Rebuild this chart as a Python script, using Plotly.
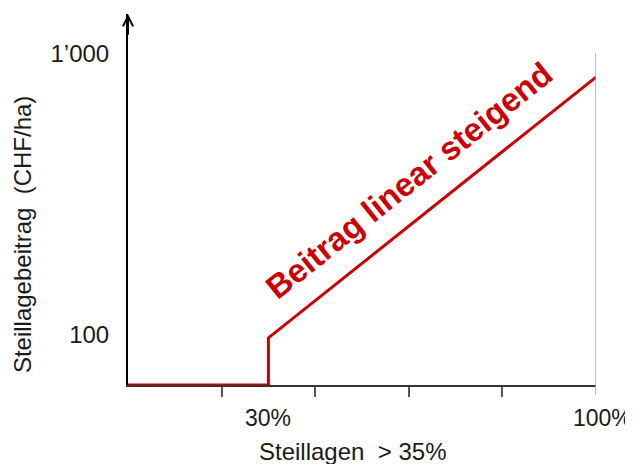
import plotly.graph_objects as go

# Schematic data (x in %, y in chart units)
steil_x = [0, 30, 30, 100]
beitrag_y = [0, 0, 127, 830]

x_tick_vals = [20, 40, 60, 80]
x_label_vals = [30, 100]
x_label_text = ["30%", "100%"]
y_tick_vals = [137, 892]
y_tick_text = ["100", "1\u2019000"]

RED = "#cc0000"
FONT = "Liberation Sans, Arial, sans-serif"
TXT = "#1a1a1a"

fig = go.Figure()
fig.add_trace(go.Scatter(
    x=steil_x, y=beitrag_y, mode="lines",
    line=dict(color=RED, width=3), cliponaxis=False, hoverinfo="skip",
    showlegend=False,
))

fig.update_layout(
    width=633, height=464,
    margin=dict(l=120, r=45, t=6, b=87),
    paper_bgcolor="white", plot_bgcolor="white",
    font=dict(family=FONT, size=23, color=TXT),
    xaxis=dict(
        range=[0, 100], showgrid=False, zeroline=False,
        showline=True, linecolor="#333333", linewidth=2,
        tickvals=x_tick_vals, ticktext=["" for _ in x_tick_vals],
        ticks="outside", ticklen=10, tickwidth=1.5, tickcolor="#555555",
        layer="below traces", fixedrange=True,
    ),
    yaxis=dict(
        range=[0, 1000], showgrid=False, zeroline=False,
        showline=True, linecolor="black", linewidth=2,
        tickvals=y_tick_vals, ticktext=y_tick_text, ticks="",
        ticklabelstandoff=12, tickfont=dict(size=24, color=TXT),
        layer="below traces", fixedrange=True,
    ),
)

# right-hand grey boundary at 100%
fig.add_shape(type="line", xref="x", yref="paper", x0=100, x1=100,
              y0=-0.027, y1=0.895, line=dict(color="#aaaaaa", width=1.5))

# arrow head on y axis
fig.add_annotation(x=0, y=1000, ax=0, ay=940, xref="x", yref="y",
                   axref="x", ayref="y", text="", showarrow=True,
                   arrowhead=5, arrowsize=1, arrowwidth=2, arrowcolor="black")

# x labels
for xv, txt in zip(x_label_vals, x_label_text):
    fig.add_annotation(x=xv, y=-0.088, xref="x", yref="paper", text=txt,
                       showarrow=False, yanchor="middle", xanchor="center",
                       xshift=6 if xv == 100 else 0,
                       font=dict(size=23, color=TXT))

# axis titles
fig.add_annotation(x=(352 - 128) / 468, y=-0.178, xref="paper", yref="paper",
                   text="Steillagen  &gt; 35%", showarrow=False,
                   xanchor="center", yanchor="middle",
                   font=dict(size=24, color=TXT))
fig.add_annotation(x=(22 - 128) / 468, y=0.404, xref="paper", yref="paper",
                   text="Steillagebeitrag  (CHF/ha)", showarrow=False,
                   xanchor="center", yanchor="middle",
                   textangle=-90, font=dict(size=24, color=TXT))

# red label
fig.add_annotation(x=60.0, y=552, xref="x", yref="y",
                   text="<b>Beitrag linear steigend</b>", showarrow=False,
                   xanchor="center", yanchor="middle",
                   textangle=-38.7, font=dict(size=33, color=RED))

fig.write_html("out.html")
